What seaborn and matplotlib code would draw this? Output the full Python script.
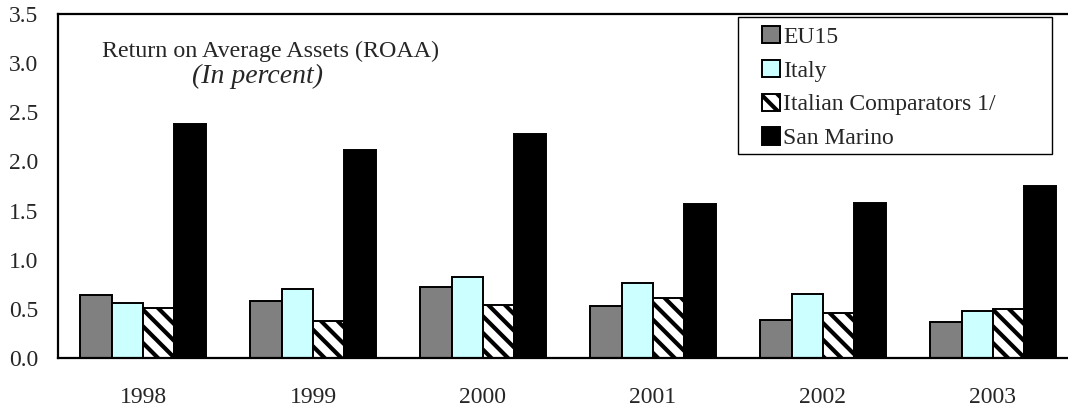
import matplotlib
matplotlib.use("Agg")
import matplotlib.pyplot as plt
import seaborn as sns
import pandas as pd
from matplotlib.patches import Patch, Rectangle

years = ["1998", "1999", "2000", "2001", "2002", "2003"]
series = ["EU15", "Italy", "Italian Comparators 1/", "San Marino"]
eu15 = [0.64, 0.58, 0.72, 0.53, 0.39, 0.37]
italy = [0.56, 0.70, 0.82, 0.76, 0.65, 0.48]
comparators = [0.51, 0.38, 0.54, 0.61, 0.46, 0.50]
san_marino = [2.38, 2.12, 2.28, 1.57, 1.58, 1.75]
yticks = [0.0, 0.5, 1.0, 1.5, 2.0, 2.5, 3.0, 3.5]

colors = ["#808080", "#CCFFFF", "#FFFFFF", "#000000"]
hatches = ["", "", "\\\\", ""]

rows = []
for name, vals in zip(series, [eu15, italy, comparators, san_marino]):
    for y, v in zip(years, vals):
        rows.append({"year": y, "series": name, "value": v})
df = pd.DataFrame(rows)

sns.set_style("white")
plt.rcParams["font.family"] = ["Liberation Serif", "DejaVu Serif"]
plt.rcParams["hatch.linewidth"] = 3.0

W, H = 1068, 412
FS = 17
fig = plt.figure(figsize=(W / 100, H / 100), dpi=100)
ax = fig.add_axes([58 / W, 54 / H, 1020 / W, 344 / H])

sns.barplot(data=df, x="year", y="value", hue="series", hue_order=series,
            palette=colors, width=0.74, edgecolor="black", linewidth=1.4,
            saturation=1, ax=ax, legend=False)

for cont, h in zip(ax.containers, hatches):
    for p in cont:
        if h:
            p.set_hatch(h)

ax.set_xlim(-0.5, 5.5)
ax.set_ylim(0, 3.5)
ax.set_yticks(yticks)
ax.set_yticklabels([f"{t:.1f}" for t in yticks], fontsize=FS)
ax.set_xlabel("")
ax.set_ylabel("")
ax.set_xticks(range(len(years)))
ax.set_xticklabels(years, fontsize=FS)
ax.set_xticks([i + 0.5 for i in range(len(years))], minor=True)
ax.tick_params(axis="x", which="major", length=0, pad=21)
ax.tick_params(axis="x", which="minor", length=6, width=1, color="black", direction="out")
ax.tick_params(axis="y", length=6, width=1, color="black", direction="out", pad=8)
for s in ["left", "top", "bottom"]:
    ax.spines[s].set_visible(True)
    ax.spines[s].set_color("black")
    ax.spines[s].set_linewidth(1.6)
ax.spines["right"].set_visible(False)

ax.text((270 - 58) / 1020, (358 - 57) / 344, "Return on Average Assets (ROAA)",
        transform=ax.transAxes, ha="center", va="baseline", fontsize=17.3)
ax.text((258 - 58) / 1020, (358 - 83) / 344, "(In percent)", transform=ax.transAxes,
        ha="center", va="baseline", fontsize=20, style="italic")

# legend frame
fig.patches.append(Rectangle((738 / W, 1 - 154 / H), (1052 - 738) / W, (154 - 17) / H,
                             transform=fig.transFigure, facecolor="white",
                             edgecolor="black", linewidth=1.0, zorder=5))

handles = [Patch(facecolor=c, edgecolor="black", hatch=h, linewidth=1.4)
           for c, h in zip(colors, hatches)]
leg = fig.legend(handles, series, loc="upper left",
                 bbox_to_anchor=(762 / W, 1 - 26 / H), bbox_transform=fig.transFigure,
                 frameon=False, fontsize=FS, handlelength=0.76,
                 handleheight=0.76, handletextpad=0.15, labelspacing=0.5,
                 borderpad=0, borderaxespad=0)
leg.set_zorder(6)

fig.savefig("out.png", dpi=100)
